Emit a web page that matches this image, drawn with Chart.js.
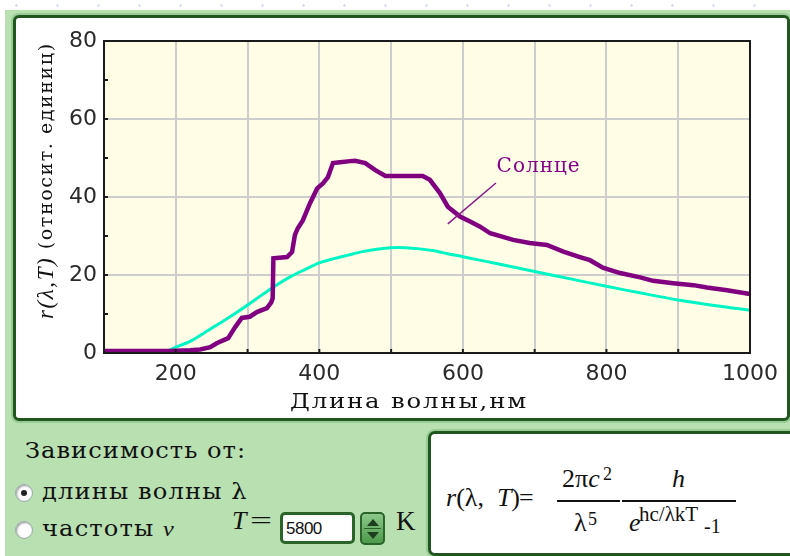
<!DOCTYPE html>
<html><head><meta charset="utf-8">
<script src="https://cdn.jsdelivr.net/npm/chart.js@4.4.1/dist/chart.umd.min.js"></script>
<style>
html,body{margin:0;padding:0;}
body{width:790px;height:556px;position:relative;overflow:hidden;background:#fff;color:#111;
 background-image:radial-gradient(circle,#d6def5 1px,transparent 1.5px);background-size:41px 41px;background-position:-4px -15px;}
#green{position:absolute;left:5px;top:10px;right:0;bottom:0;background:#b8e0b1;}
#panel{position:absolute;left:13px;top:15px;width:777px;height:406px;box-sizing:border-box;background:#fff;border:3px solid #22561f;border-radius:6px;box-shadow:0 0 0 2px #98cc94;}
#c{position:absolute;left:16px;top:16px;}
.t{position:absolute;white-space:nowrap;line-height:1;font-family:'DejaVu Serif';transform-origin:0 50%;}
.s{position:absolute;white-space:nowrap;line-height:1;font-family:'Liberation Serif';}
#dep{left:25px;top:440px;font-size:22px;letter-spacing:0.9px;transform:scaleX(1.1);}
.radio{position:absolute;width:16px;height:16px;border-radius:50%;background:#fff;border:1px solid #9aa;box-shadow:inset 1px 1px 2px #999;}
.radio.on::after{content:"";position:absolute;left:5px;top:5px;width:6px;height:6px;border-radius:50%;background:#222;}
#r1{left:15px;top:484px;}
#r2{left:15px;top:521px;}
#l1{left:42px;top:481px;font-size:22px;letter-spacing:1px;transform:scaleX(1.1);}
#l2{left:42px;top:518px;font-size:22px;letter-spacing:1px;transform:scaleX(1.1);}
#inp{position:absolute;left:280px;top:512px;width:75px;height:32px;box-sizing:border-box;background:#fff;border:3px solid #2a6428;border-radius:5px;font-family:'Liberation Sans';font-size:17px;padding:4px 0 0 3px;letter-spacing:-0.5px;line-height:1.2;}
#spin{position:absolute;left:360px;top:512px;width:25px;height:33px;box-sizing:border-box;border:2px solid #2a6428;border-radius:5px;background:linear-gradient(#8cc88a,#4d9a4d);}
#spin .up,#spin .dn{position:absolute;left:5px;width:0;height:0;border-left:6px solid transparent;border-right:6px solid transparent;}
#spin .up{top:5px;border-bottom:7px solid #1d3f1d;}
#spin .dn{top:18px;border-top:7px solid #1d3f1d;}
#spin .mid{position:absolute;left:2px;right:2px;top:14px;height:1px;background:#2a6428;}
#fbox{position:absolute;left:428px;top:431px;width:380px;height:125px;box-sizing:border-box;background:#fff;border:3px solid #22561f;border-radius:7px;box-shadow:0 0 0 2px #98cc94;}
.fl{position:absolute;height:1.5px;background:#111;}
</style></head>
<body>
<div id="green"></div>
<div id="panel"></div>
<canvas id="c" width="770" height="400"></canvas>

<div class="t" id="dep">Зависимость от:</div>
<div class="radio on" id="r1"></div>
<div class="radio" id="r2"></div>
<div class="t" id="l1">длины волны λ</div>
<div class="t" id="l2">частоты <span style="font-family:'Liberation Serif';font-style:italic">v</span></div>
<div class="s" style="left:232px;top:508px;font-size:26px;"><i>T</i></div>
<div class="s" style="left:250px;top:508px;font-size:26px;transform:scaleX(1.5);transform-origin:0 50%;">=</div>
<div id="inp">5800</div>
<div id="spin"><div class="up"></div><div class="mid"></div><div class="dn"></div></div>
<div class="s" style="left:396px;top:508px;font-size:27px;">K</div>

<div id="fbox"></div>
<div class="s" style="left:446px;top:485px;font-size:26px;"><i>r</i>(λ,&nbsp; <i>T</i>)</div>
<div class="s" style="left:519px;top:485px;font-size:26px;">=</div>
<div class="s" style="left:562px;top:466px;font-size:26px;">2π<i>c</i></div>
<div class="s" style="left:603px;top:465px;font-size:18px;">2</div>
<div class="fl" style="left:557px;top:500px;width:63px;"></div>
<div class="s" style="left:574px;top:510px;font-size:26px;">λ</div>
<div class="s" style="left:588px;top:510px;font-size:18px;">5</div>
<div class="s" style="left:672px;top:466px;font-size:26px;"><i>h</i></div>
<div class="fl" style="left:622px;top:500px;width:114px;"></div>
<div class="s" style="left:629px;top:510px;font-size:26px;"><i>e</i></div>
<div class="s" style="left:639px;top:504px;font-size:21px;">hc/λkT</div>
<div class="s" style="left:704px;top:516px;font-size:20px;">-1</div>

<script>
// ---- data ----
const sunWavelengths = [100,190,220,234,248,257,273,283,292,303,313,327,333,335,336,355,362,366,370,377,387,397,405,412,419,429,443,450,464,478,492,544,554,568,579,596,610,624,638,670,693,717,740,763,777,795,819,847,865,893,921,940,968,1000];
const sunValues      = [0.5,0.5,0.7,0.9,1.5,2.5,3.8,6.7,9,9.3,10.5,11.5,13,14,24.3,24.6,25.9,30.3,32,34,38.4,42.2,43.5,45.1,48.7,48.9,49.2,49.3,48.7,46.9,45.4,45.4,44.4,41,37.5,35,33.7,32.4,30.7,29,28.2,27.7,26,24.6,23.8,21.9,20.5,19.4,18.5,17.9,17.4,16.8,16.1,15.1];
const bbWavelengths  = [100,185,200,220,240,260,280,300,320,340,360,380,400,420,440,460,480,500,520,540,560,580,600,650,700,750,800,850,900,950,1000];
const bbValues       = [0.3,0.3,1.5,3,5.2,7.5,9.8,12.3,14.9,17.4,19.6,21.4,23.1,24.2,25.1,26,26.6,27,27,26.7,26.2,25.4,24.7,22.8,20.9,19,17.1,15.3,13.6,12.2,11];
const xTickLabels = [200,400,600,800,1000];
const yTickLabels = [0,20,40,60,80];
const sunLabel = 'Солнце';
const sunLabelPos = [647, 47.7];
const sunArrow = [[646, 43.6],[579, 33.1]];
const xTitle = 'Длина волны,нм';
const yTitleItalic = 'r(λ,T)';
const yTitleRest = ' (относит. единиц)';

const toPts = (xs, ys) => xs.map((x,i)=>({x:x, y:ys[i]}));

const decor = {
  id:'decor',
  beforeDraw(chart){
    const {ctx, chartArea:a} = chart;
    ctx.save();
    ctx.fillStyle = '#fffde5';
    ctx.fillRect(a.left, a.top, a.right-a.left, a.bottom-a.top);
    ctx.restore();
  },
  afterDraw(chart){
    const {ctx, chartArea:a, scales} = chart;
    const xs = scales.x, ys = scales.y;
    ctx.save();
    ctx.strokeStyle = '#1a1a1a'; ctx.lineWidth = 2;
    ctx.strokeRect(a.left, a.top, a.right-a.left, a.bottom-a.top);
    for (let v=100; v<=1000; v+=100){ const p = xs.getPixelForValue(v); ctx.beginPath(); ctx.moveTo(p, a.bottom); ctx.lineTo(p, a.bottom-4); ctx.stroke(); }
    for (let v=0; v<=80; v+=10){ const p = ys.getPixelForValue(v); ctx.beginPath(); ctx.moveTo(a.left, p); ctx.lineTo(a.left+4, p); ctx.stroke(); }
    // annotation
    ctx.strokeStyle = '#8a1a8a'; ctx.lineWidth = 1.5;
    ctx.beginPath();
    ctx.moveTo(xs.getPixelForValue(sunArrow[0][0]), ys.getPixelForValue(sunArrow[0][1]));
    ctx.lineTo(xs.getPixelForValue(sunArrow[1][0]), ys.getPixelForValue(sunArrow[1][1]));
    ctx.stroke();
    ctx.fillStyle = '#880088';
    ctx.font = '20px "DejaVu Serif"';
    ctx.textBaseline = 'middle'; ctx.textAlign = 'left';
    ctx.letterSpacing = '1px';
    ctx.fillText(sunLabel, xs.getPixelForValue(sunLabelPos[0]), ys.getPixelForValue(sunLabelPos[1]));
    // x title (wide serif)
    ctx.save();
    ctx.fillStyle = '#111';
    ctx.font = '20px "DejaVu Serif"';
    ctx.letterSpacing = '1.5px';
    const w0 = ctx.measureText(xTitle).width;
    ctx.translate(274, 392);
    ctx.scale(238 / w0, 1);
    ctx.textAlign = 'left'; ctx.textBaseline = 'alphabetic';
    ctx.fillText(xTitle, 0, 0);
    ctx.restore();
    // y title (rotated)
    ctx.fillStyle = '#111';
    ctx.translate(31, 166);
    ctx.rotate(-Math.PI/2);
    ctx.letterSpacing = '0px';
    ctx.font = 'italic 23px "Liberation Serif"';
    const wi = ctx.measureText(yTitleItalic).width;
    ctx.font = '19px "DejaVu Serif"';
    const wr = ctx.measureText(yTitleRest).width;
    const n = yTitleItalic.length + yTitleRest.length;
    const ls = Math.max(0, (275 - wi - wr)/(n-1));
    ctx.letterSpacing = ls.toFixed(2)+'px';
    ctx.textBaseline = 'middle';
    const x0 = -137;
    ctx.font = 'italic 23px "Liberation Serif"';
    ctx.fillText(yTitleItalic, x0, 0);
    ctx.font = '19px "DejaVu Serif"';
    ctx.fillText(yTitleRest, x0 + wi + ls*yTitleItalic.length, 0);
    ctx.restore();
  }
};

const tickFont = {family:'"DejaVu Sans"', size:22};
new Chart(document.getElementById('c'), {
  type:'line',
  data:{datasets:[
    {label:'Солнце', data:toPts(sunWavelengths, sunValues), borderColor:'#800080', borderWidth:4.5, pointRadius:0, tension:0, order:1},
    {label:'T=5800 K', data:toPts(bbWavelengths, bbValues), borderColor:'#00f5c4', borderWidth:3, pointRadius:0, tension:0.3, order:2}
  ]},
  options:{
    responsive:false, animation:false, devicePixelRatio:1,
    layout:{padding:{top:25, right:36, left:0, bottom:0}},
    plugins:{legend:{display:false}, tooltip:{enabled:false}},
    scales:{
      x:{type:'linear', min:100, max:1000,
         afterFit(s){ s.height = 63; },
         ticks:{stepSize:100, autoSkip:false, maxRotation:0, padding:8, color:'#2a2a2a', font:tickFont,
                callback:v => xTickLabels.includes(v) ? String(v) : ''},
         grid:{color:'#cdcdcd', lineWidth:2, drawTicks:false},
         border:{display:false}},
      y:{type:'linear', min:0, max:80,
         afterFit(s){ s.width = 88; },
         ticks:{stepSize:10, autoSkip:false, padding:7, color:'#2a2a2a', font:tickFont,
                callback:v => yTickLabels.includes(v) ? String(v) : ''},
         grid:{color:c => (c.tick && yTickLabels.includes(c.tick.value)) ? '#cdcdcd' : 'rgba(0,0,0,0)', lineWidth:2, drawTicks:false},
         border:{display:false}}
    }
  },
  plugins:[decor]
});
</script>
</body></html>
